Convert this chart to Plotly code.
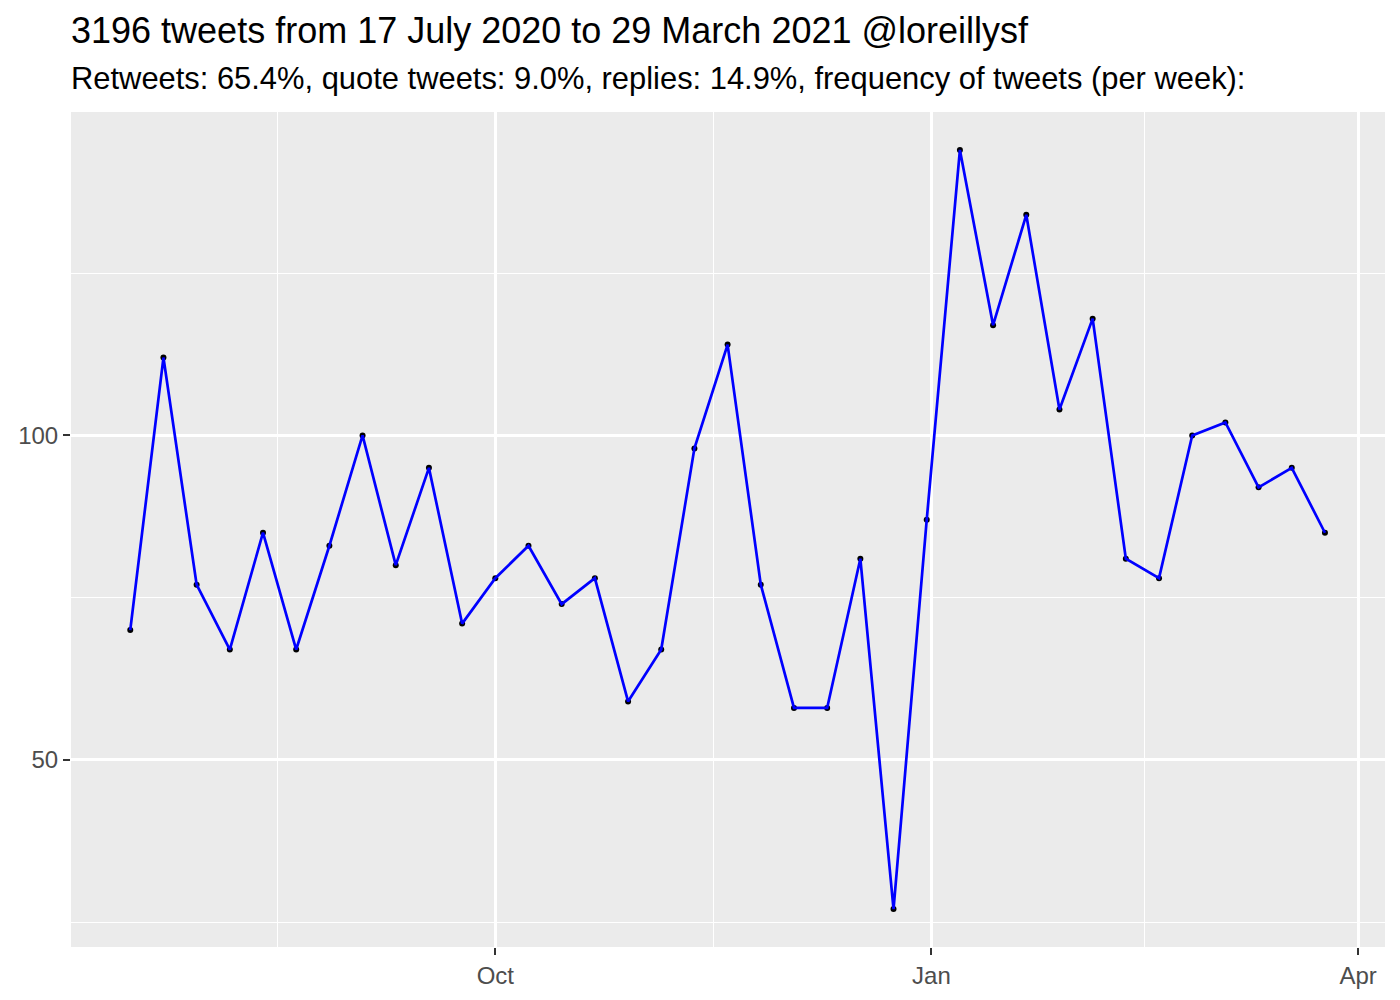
import pandas as pd
import plotly.graph_objects as go

week_start = pd.date_range("2020-07-16", periods=37, freq="7D")
tweets_per_week = [70, 112, 77, 67, 85, 67, 83, 100, 80, 95, 71, 78, 83, 74, 78, 59, 67, 98, 114,
                   77, 58, 58, 81, 27, 87, 144, 117, 134, 104, 118, 81, 78, 100, 102, 92, 95, 85]

title_text = "3196 tweets from 17 July 2020 to 29 March 2021 @loreillysf"
subtitle_text = "Retweets: 65.4%, quote tweets: 9.0%, replies: 14.9%, frequency of tweets (per week):"

x_major = ["2020-10-01", "2021-01-01", "2021-04-01"]
x_major_labels = ["Oct", "Jan", "Apr"]
x_minor = ["2020-08-16", "2020-11-16", "2021-02-15"]
y_major = [50, 100]
y_minor = [25, 75, 125]

fig = go.Figure()
fig.add_trace(go.Scatter(x=week_start, y=tweets_per_week, mode="markers",
                         marker=dict(color="black", size=6), showlegend=False, hoverinfo="skip"))
fig.add_trace(go.Scatter(x=week_start, y=tweets_per_week, mode="lines",
                         line=dict(color="#0000FF", width=2.7), showlegend=False))

font = "Liberation Sans, Arial, sans-serif"
fig.update_layout(
    width=1392, height=992,
    margin=dict(l=63, r=15, t=104, b=53),
    paper_bgcolor="white", plot_bgcolor="#EBEBEB",
    font=dict(family=font),
)
fig.add_annotation(text=title_text, xref="paper", yref="paper", x=0, y=1,
                   xanchor="left", yanchor="middle", yshift=82, xshift=-2,
                   showarrow=False, font=dict(size=36, color="black", family=font))
fig.add_annotation(text=subtitle_text, xref="paper", yref="paper", x=0, y=1,
                   xanchor="left", yanchor="middle", yshift=34, xshift=-2,
                   showarrow=False, font=dict(size=30.9, color="black", family=font))

fig.update_xaxes(
    range=["2020-07-03 12:00", "2021-04-06 16:00"], automargin=False,
    tickmode="array", tickvals=x_major, ticktext=x_major_labels,
    showgrid=True, gridcolor="white", gridwidth=2.5,
    minor=dict(tickmode="array", tickvals=x_minor, showgrid=True, gridcolor="white", gridwidth=1.3, ticklen=0),
    ticks="outside", ticklen=7, tickwidth=2, tickcolor="#333333",
    tickfont=dict(size=24, color="#4D4D4D", family=font),
    zeroline=False, showline=False,
)
fig.update_yaxes(
    range=[21.15, 149.85], automargin=False,
    tickmode="array", tickvals=y_major, ticktext=[str(v) for v in y_major],
    showgrid=True, gridcolor="white", gridwidth=2.5,
    minor=dict(tickmode="array", tickvals=y_minor, showgrid=True, gridcolor="white", gridwidth=1.3, ticklen=0),
    ticks="outside", ticklen=7, tickwidth=2, tickcolor="#333333",
    tickfont=dict(size=24, color="#4D4D4D", family=font),
    zeroline=False, showline=False,
)

fig.write_html("out.html")
